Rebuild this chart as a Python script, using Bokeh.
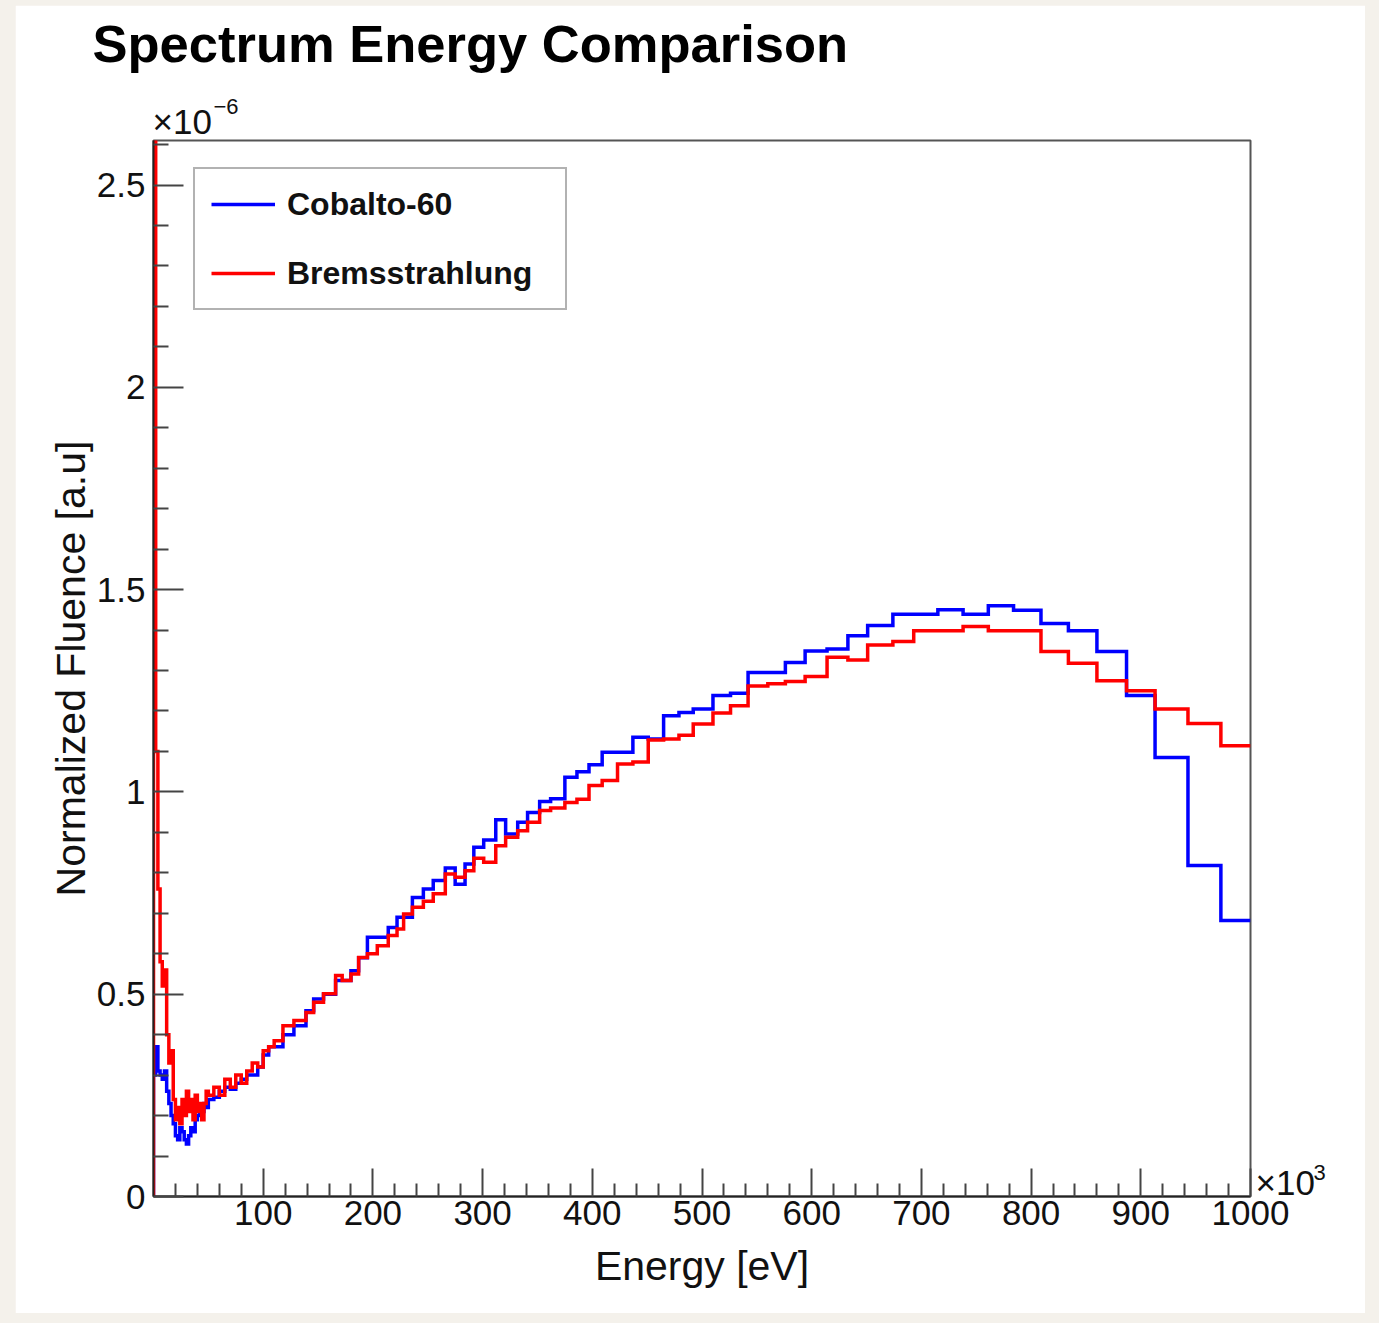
from bokeh.plotting import figure
from bokeh.models import (Label, Legend, LegendItem, FixedTicker,
                          CustomJSTickFormatter, Range1d)
from bokeh.layouts import column
from bokeh.embed import file_html
from bokeh.resources import INLINE

FONT = "Liberation Sans"

# ---------------- data (energy in keV = x10^3 eV, fluence in x10^-6 a.u.) ----
bin_edges = [0, 2, 4, 6, 8, 10, 12, 14, 16, 18, 20, 22, 24, 26, 28, 30, 32, 34,
             36, 38, 40, 42, 44, 46, 48, 50, 55, 60, 65, 70, 75, 80, 85, 90, 95,
             100, 105, 110, 118, 128, 139, 146, 155, 166, 172, 180, 187, 195,
             204, 214, 222, 228, 236, 246, 255, 266, 275, 284, 292, 301, 312,
             321, 332, 341, 352, 362, 375, 386, 397, 409, 423, 437, 451, 465,
             479, 492, 510, 526, 542, 560, 576, 594, 614, 633, 651, 674, 693,
             715, 738, 761, 784, 809, 834, 860, 887, 913, 943, 973, 1000]

cobalto_60 = [0.30, 0.37, 0.31, 0.30, 0.29, 0.31, 0.26, 0.23, 0.20, 0.18, 0.15,
              0.14, 0.17, 0.16, 0.14, 0.13, 0.15, 0.17, 0.16, 0.19, 0.20, 0.22,
              0.21, 0.23, 0.22,
              0.24, 0.245, 0.26, 0.27, 0.265, 0.28, 0.29, 0.30, 0.30, 0.32,
              0.35, 0.37,
              0.37, 0.40, 0.422, 0.459, 0.488, 0.50, 0.534, 0.534, 0.558, 0.59,
              0.641, 0.641, 0.665, 0.690, 0.690, 0.739, 0.76, 0.781, 0.812,
              0.772, 0.822, 0.863, 0.881, 0.931, 0.896, 0.925, 0.949, 0.976,
              0.983, 1.036, 1.050, 1.067, 1.098, 1.098, 1.135, 1.131, 1.188,
              1.196, 1.205, 1.238, 1.244, 1.295, 1.295, 1.320, 1.348, 1.353,
              1.386, 1.411, 1.439, 1.439, 1.450, 1.439, 1.460, 1.449, 1.416,
              1.398, 1.347, 1.238, 1.085, 0.818, 0.682]

bremsstrahlung = [2.9, 1.10, 0.76, 0.58, 0.52, 0.56, 0.40, 0.33, 0.36, 0.24,
                  0.19, 0.22, 0.18, 0.24, 0.20, 0.26, 0.21, 0.24, 0.19, 0.25,
                  0.21, 0.23, 0.19, 0.23, 0.26,
                  0.25, 0.27, 0.25, 0.29, 0.27, 0.30, 0.28, 0.31, 0.33, 0.32,
                  0.36, 0.37,
                  0.385, 0.422, 0.435, 0.455, 0.480, 0.501, 0.546, 0.534, 0.550,
                  0.591, 0.600, 0.620, 0.645, 0.661, 0.698, 0.715, 0.730, 0.748,
                  0.797, 0.789, 0.805, 0.836, 0.826, 0.867, 0.888, 0.904, 0.925,
                  0.954, 0.960, 0.974, 0.982, 1.016, 1.028, 1.069, 1.074, 1.128,
                  1.131, 1.140, 1.168, 1.195, 1.213, 1.262, 1.267, 1.273, 1.285,
                  1.333, 1.326, 1.363, 1.372, 1.398, 1.398, 1.409, 1.398, 1.398,
                  1.347, 1.318, 1.275, 1.250, 1.205, 1.169, 1.114]

series_names = ["Cobalto-60", "Bremsstrahlung"]
title_text = "Spectrum Energy Comparison"
x_major_ticks = [100, 200, 300, 400, 500, 600, 700, 800, 900, 1000]
x_minor_ticks = [v for v in range(20, 1000, 20) if v % 100 != 0]
y_major_ticks = [0, 0.5, 1.0, 1.5, 2.0, 2.5]
y_minor_ticks = [round(i * 0.1, 1) for i in range(0, 27) if i % 5 != 0]


def hist_path(edges, vals):
    xs, ys = [edges[0]], [0.0]
    for i, v in enumerate(vals):
        xs += [edges[i], edges[i + 1]]
        ys += [v, v]
    return xs, ys


p = figure(width=1350, height=1308, output_backend="svg", toolbar_location=None,
           x_range=Range1d(0, 1000), y_range=Range1d(0, 2.61),
           min_border_left=138, min_border_right=115,
           min_border_top=135, min_border_bottom=117,
           background_fill_color="white", border_fill_color="white")
p.title = None
p.grid.visible = False
p.outline_line_color = "#555555"
p.outline_line_width = 2

bx, by = hist_path(bin_edges, cobalto_60)
rx, ry = hist_path(bin_edges, bremsstrahlung)
r_blue = p.line(bx, by, line_color="#0000ff", line_width=3.5, line_join="miter")
r_red = p.line(rx, ry, line_color="#ff0000", line_width=3.5, line_join="miter")

for ax in (p.xaxis[0], p.yaxis[0]):
    ax.axis_line_color = "#222222"
    ax.axis_line_width = 2
    ax.major_tick_line_color = "#444444"
    ax.minor_tick_line_color = "#444444"
    ax.major_tick_line_width = 2
    ax.minor_tick_line_width = 2
    ax.major_tick_out = 0
    ax.minor_tick_out = 0
    ax.major_label_text_font = FONT
    ax.major_label_text_font_size = "35px"
    ax.major_label_text_color = "#111111"
    ax.axis_label_text_font = FONT
    ax.axis_label_text_font_size = "41px"
    ax.axis_label_text_font_style = "normal"
    ax.axis_label_text_color = "#111111"

p.xaxis[0].ticker = FixedTicker(ticks=x_major_ticks, minor_ticks=x_minor_ticks)
p.xaxis[0].major_tick_in = 28
p.xaxis[0].minor_tick_in = 13
p.xaxis[0].major_label_standoff = 4
p.xaxis[0].axis_label = "Energy [eV]"
p.xaxis[0].axis_label_standoff = 15

p.yaxis[0].ticker = FixedTicker(ticks=y_major_ticks, minor_ticks=y_minor_ticks)
p.yaxis[0].major_tick_in = 30
p.yaxis[0].minor_tick_in = 15
p.yaxis[0].major_label_standoff = 8
p.yaxis[0].formatter = CustomJSTickFormatter(code="return String(Math.round(tick*10)/10);")
p.yaxis[0].axis_label = "Normalized Fluence [a.u]"
p.yaxis[0].axis_label_standoff = 0

legend = Legend(items=[LegendItem(label=series_names[0], renderers=[r_blue]),
                       LegendItem(label=series_names[1], renderers=[r_red])],
                location=(40, 886), orientation="vertical",
                label_text_font=FONT, label_text_font_size="32px",
                label_text_font_style="bold", label_text_color="#111111",
                glyph_width=64, glyph_height=38, label_height=38,
                label_width=262, label_standoff=12, spacing=31, padding=16,
                margin=0, border_line_color="#666666", border_line_width=2,
                background_fill_color="white", background_fill_alpha=1.0)
p.add_layout(legend, "center")

# texts outside the frame: canvas-pixel positions (top-left origin),
# attached to side panels so they are not clipped by the frame
text_specs = [(title_text, 77, 38, "52.5px", "bold", "above"),
              ("×10", 137, 116, "35px", "normal", "above"),
              ("−6", 198, 101, "22px", "normal", "above"),
              ("×10", 1240, 1177, "35px", "normal", "right"),
              ("3", 1298, 1167, "22px", "normal", "right")]
for txt, cx, cy, fs, fst, side in text_specs:
    lab = Label(x=cx, y=cy, x_units="canvas", y_units="canvas", text=txt,
                text_font=FONT, text_font_size=fs, text_font_style=fst,
                text_color="#111111" if fst == "normal" else "black",
                text_baseline="alphabetic")
    p.add_layout(lab, side)

layout = column(p, styles={"background-color": "#f4f1eb",
                           "padding": "5px 14px 10px 15px"})

open("out.html", "w").write(file_html(layout, INLINE))
